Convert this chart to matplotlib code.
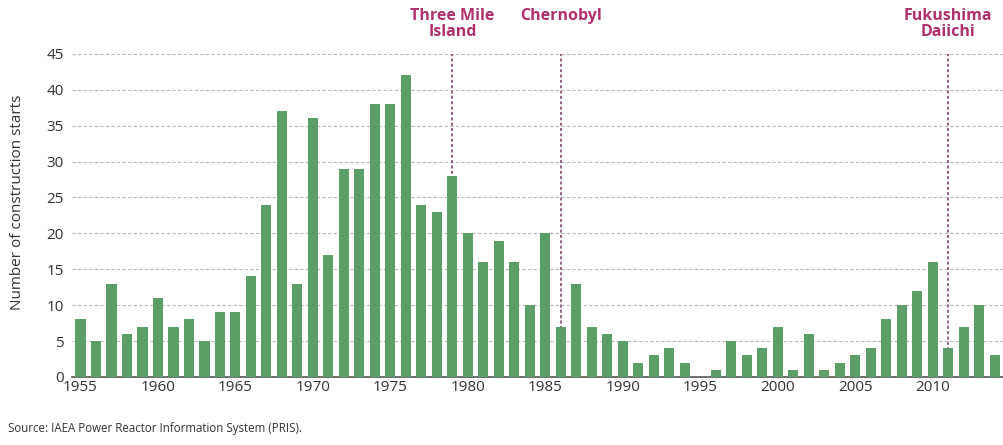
import matplotlib.pyplot as plt

# construction starts per year
years = list(range(1955, 2015))
starts = [8, 5, 13, 6, 7, 11, 7, 8, 5, 9,
          9, 14, 24, 37, 13, 36, 17, 29, 29, 38,
          38, 42, 24, 23, 28, 20, 16, 19, 16, 10,
          20, 7, 13, 7, 6, 5, 2, 3, 4, 2,
          0, 1, 5, 3, 4, 7, 1, 6, 1, 2,
          3, 4, 8, 10, 12, 16, 4, 7, 10, 3]

event_years = [1979, 1986, 2011]
event_labels = ['Three Mile\nIsland', 'Chernobyl', 'Fukushima\nDaiichi']

plt.rcParams['font.family'] = ['Open Sans', 'DejaVu Sans']

fig = plt.figure(figsize=(10.04, 4.45), dpi=100)
ax = fig.add_axes([0.0717, 0.153, 0.9283, 0.726])

ax.bar(years, starts, width=0.65, color='#5b9e68', zorder=3)

for yr, lab in zip(event_years, event_labels):
    ax.vlines(yr, 0, 45, colors='#7b3b63', linestyles=(0, (2, 1.5)), linewidth=1.1, zorder=2)
    ax.text(yr, 51.4, lab, ha='center', va='top', color='#b0306e',
            fontsize=11.5, fontweight='bold', linespacing=1.0, clip_on=False)

ax.set_xlim(1954.45, 2014.6)
ax.set_ylim(0, 45)
ax.set_yticks(range(0, 46, 5))
ax.set_xticks(range(1955, 2011, 5))
ax.yaxis.grid(True, linestyle=(0, (3, 2)), color='#b8b8b8', linewidth=0.8, zorder=0)
ax.set_axisbelow(True)

for s in ['top', 'right', 'left']:
    ax.spines[s].set_visible(False)
ax.spines['bottom'].set_color('#555555')
ax.spines['bottom'].set_linewidth(1.2)
ax.tick_params(axis='both', length=0, labelsize=11, colors='#333333')
ax.tick_params(axis='x', pad=2)
ax.tick_params(axis='y', pad=6)

ax.set_ylabel('Number of construction starts', fontsize=11, color='#333333')
ax.yaxis.set_label_coords(-0.05, 0.54)

fig.text(0.008, 0.03, 'Source: IAEA Power Reactor Information System (PRIS).',
         fontsize=8.3, color='#333333')

fig.savefig('out.png', dpi=100)
